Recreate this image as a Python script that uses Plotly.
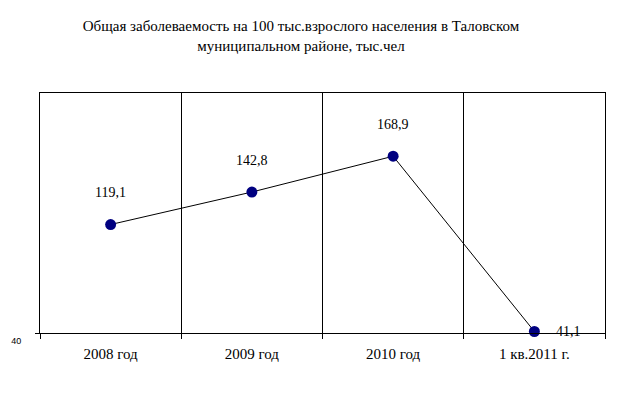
import plotly.graph_objects as go

categories = ["2008 год", "2009 год", "2010 год", "1 кв.2011 г."]
values = [119.1, 142.8, 168.9, 41.1]
label_texts = ["119,1", "142,8", "168,9", "41,1"]
y_tick_vals = [40]
y_tick_text = ["40"]
title_text = "Общая заболеваемость на 100 тыс.взрослого населения в Таловском<br>муниципальном районе, тыс.чел"

serif = "Liberation Serif, Times New Roman, serif"

fig = go.Figure()
fig.add_trace(go.Scatter(
    x=categories, y=values, mode="lines+markers",
    line=dict(color="black", width=1),
    marker=dict(color="#000080", size=11),
    cliponaxis=False, showlegend=False, hoverinfo="skip",
))

for i, (c, v, t) in enumerate(zip(categories, values, label_texts)):
    if i < len(values) - 1:
        fig.add_annotation(x=c, y=v, text=t, showarrow=False, yshift=32,
                           font=dict(family=serif, size=14, color="black"))
    else:
        fig.add_annotation(x=c, y=v, text=t, showarrow=False, xshift=20,
                           xanchor="left", font=dict(family=serif, size=14, color="black"))

fig.update_layout(
    width=618, height=399,
    margin=dict(l=40, r=13, t=93, b=66),
    paper_bgcolor="white", plot_bgcolor="white",
    title=dict(text=title_text, x=0.487, xanchor="center", y=0.922, yanchor="top",
               font=dict(family=serif, size=15, color="black")),
)
fig.update_xaxes(
    type="category", range=[-0.5, len(categories) - 0.5],
    tickson="boundaries", showgrid=True, gridcolor="black", gridwidth=1,
    ticks="outside", ticklen=5, tickcolor="black",
    showline=True, linecolor="black", linewidth=1, mirror=True,
    tickfont=dict(family=serif, size=15, color="black"), ticklabelstandoff=7,
)
fig.update_yaxes(
    range=[40, 215], tickvals=y_tick_vals, ticktext=y_tick_text,
    showgrid=False, zeroline=False,
    ticks="outside", ticklen=4, tickcolor="black",
    showline=True, linecolor="black", linewidth=1, mirror=True,
    tickfont=dict(family="Liberation Sans, Arial, sans-serif", size=9, color="black"),
    ticklabelshift=8, ticklabelstandoff=12,
)
fig.write_html("out.html", config={"displayModeBar": False},
               post_script="document.body.style.margin='0px';")
